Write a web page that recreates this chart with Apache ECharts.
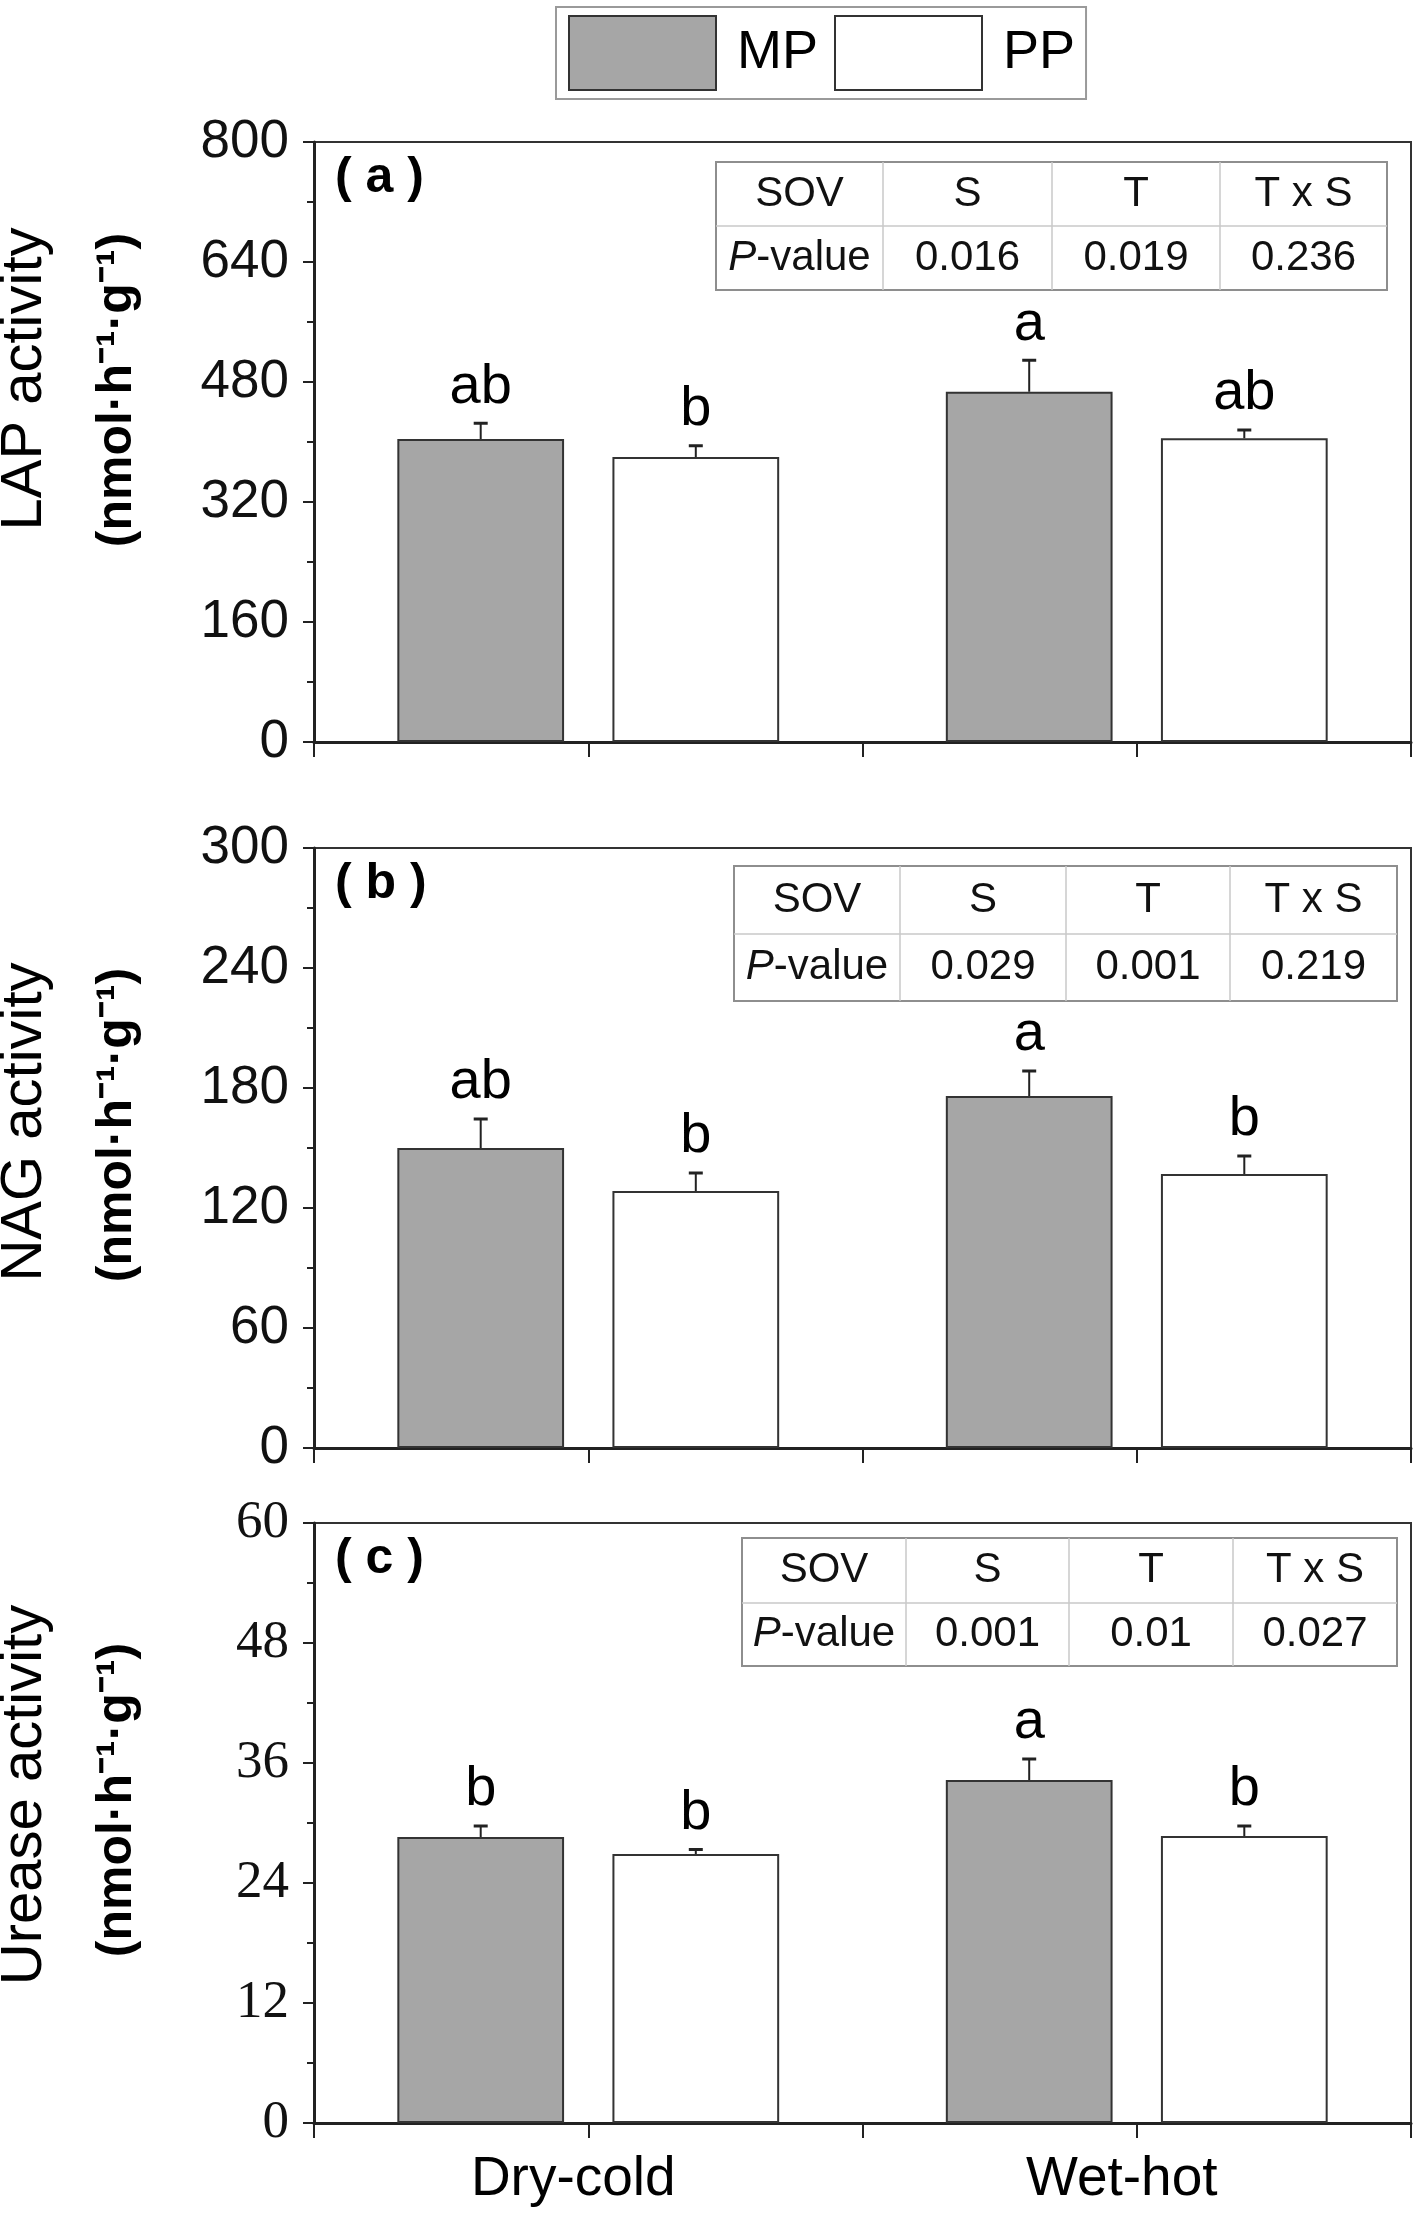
<!DOCTYPE html>
<html><head><meta charset="utf-8">
<script src="https://cdn.jsdelivr.net/npm/echarts@6/dist/echarts.min.js"></script>
<style>html,body{margin:0;padding:0;background:#fff}#c{width:1418px;height:2218px}</style>
</head><body><div id="c"></div>
<script>
// ---------- DATA ----------
const categories = ['Dry-cold', 'Wet-hot'];
const seriesNames = ['MP', 'PP'];
const tableHeader = ['SOV', 'S', 'T', 'T x S'];

// (a) LAP activity
const lapTicks = [0, 160, 320, 480, 640, 800];
const lapMP = [404, 467];
const lapMPse = [21, 42];
const lapPP = [380, 405];
const lapPPse = [15, 11];
const lapMPletters = ['ab', 'a'];
const lapPPletters = ['b', 'ab'];
const lapPvalues = ['0.016', '0.019', '0.236'];

// (b) NAG activity
const nagTicks = [0, 60, 120, 180, 240, 300];
const nagMP = [150, 176];
const nagMPse = [14.5, 12.5];
const nagPP = [128.5, 137];
const nagPPse = [9, 9];
const nagMPletters = ['ab', 'a'];
const nagPPletters = ['b', 'b'];
const nagPvalues = ['0.029', '0.001', '0.219'];

// (c) Urease activity
const ureTicks = [0, 12, 24, 36, 48, 60];
const ureMP = [28.6, 34.3];
const ureMPse = [1.1, 2.1];
const urePP = [26.9, 28.7];
const urePPse = [0.45, 1.0];
const ureMPletters = ['b', 'a'];
const urePPletters = ['b', 'b'];
const urePvalues = ['0.001', '0.01', '0.027'];

// ---------- LAYOUT / STYLE ----------
const SANS = '"Liberation Sans", Arial, Helvetica, sans-serif';
const SERIF = '"Liberation Serif", "Times New Roman", serif';
const AX = '#222';
const MP_FILL = '#a6a6a6';
const BAR_W = 0.304, BAR_GAP = 0.29;
const OFF = BAR_W * (1 + BAR_GAP) / 2;
const GRID_LEFT = 314, GRID_W = 1097, GRID_H = 600;

const panels = [
  { label: '( a )', top: 142, ticks: lapTicks, mp: lapMP, mpSe: lapMPse, pp: lapPP, ppSe: lapPPse,
    mpL: lapMPletters, ppL: lapPPletters, pv: lapPvalues, tickFont: SANS,
    title: 'LAP activity', titleY: [379, 390],
    tx: [716, 883, 1052, 1220, 1387], ty: [162, 226, 290] },
  { label: '( b )', top: 848, ticks: nagTicks, mp: nagMP, mpSe: nagMPse, pp: nagPP, ppSe: nagPPse,
    mpL: nagMPletters, ppL: nagPPletters, pv: nagPvalues, tickFont: SANS,
    title: 'NAG activity', titleY: [1122, 1125],
    tx: [734, 900, 1066, 1230, 1397], ty: [866, 934, 1001] },
  { label: '( c )', top: 1523, ticks: ureTicks, mp: ureMP, mpSe: ureMPse, pp: urePP, ppSe: urePPse,
    mpL: ureMPletters, ppL: urePPletters, pv: urePvalues, tickFont: SERIF,
    title: 'Urease activity', titleY: [1795, 1800],
    tx: [742, 906, 1069, 1233, 1397], ty: [1538, 1603, 1666] }
];

function errRender(sign, letters) {
  return function (params, api) {
    const i = api.value(0), v = api.value(1), se = api.value(2);
    const band = api.size([1, 0])[0];
    const dx = sign * band * OFF;
    const p0 = api.coord([i, v]);
    const p1 = api.coord([i, v + se]);
    const x = p0[0] + dx;
    const cap = 7;
    return {
      type: 'group',
      children: [
        { type: 'line', shape: { x1: x, y1: p0[1], x2: x, y2: p1[1] }, style: { stroke: AX, lineWidth: 2 } },
        { type: 'line', shape: { x1: x - cap, y1: p1[1], x2: x + cap, y2: p1[1] }, style: { stroke: AX, lineWidth: 3 } },
        { type: 'text', x: x, y: p1[1] - 8,
          style: { text: letters[params.dataIndex], font: '56px ' + SANS, fill: '#000', align: 'center', verticalAlign: 'bottom' } }
      ]
    };
  };
}

function tableGraphics(xs, ys, pv) {
  const els = [];
  els.push({ type: 'rect', shape: { x: xs[0], y: ys[0], width: xs[4] - xs[0], height: ys[2] - ys[0] },
    style: { fill: '#fff', stroke: '#8e8e8e', lineWidth: 2 }, z: 10 });
  for (let k = 1; k < 4; k++) {
    els.push({ type: 'line', shape: { x1: xs[k], y1: ys[0], x2: xs[k], y2: ys[2] },
      style: { stroke: '#c8c8c8', lineWidth: 1.5 }, z: 11 });
  }
  els.push({ type: 'line', shape: { x1: xs[0], y1: ys[1], x2: xs[4], y2: ys[1] },
    style: { stroke: '#c8c8c8', lineWidth: 1.5 }, z: 11 });
  const row2 = ['{i|P}-value'].concat(pv);
  for (let k = 0; k < 4; k++) {
    const cx = (xs[k] + xs[k + 1]) / 2;
    els.push({ type: 'text', x: cx, y: (ys[0] + ys[1]) / 2, z: 12,
      style: { text: tableHeader[k], font: '42px ' + SANS, fill: '#111', align: 'center', verticalAlign: 'middle' } });
    els.push({ type: 'text', x: cx, y: (ys[1] + ys[2]) / 2, z: 12,
      style: { text: row2[k], font: '42px ' + SANS, fill: '#111', align: 'center', verticalAlign: 'middle',
        rich: { i: { fontStyle: 'italic', fontSize: 42, fontFamily: SANS, fill: '#111' } } } });
  }
  return els;
}

const grid = [], xAxis = [], yAxis = [], series = [], graphic = [];

panels.forEach((p, k) => {
  grid.push({ left: GRID_LEFT, top: p.top, width: GRID_W, height: GRID_H, show: true,
    borderColor: '#333', borderWidth: 2, backgroundColor: 'transparent', outerBoundsMode: 'none', containLabel: false });
  const isLast = k === panels.length - 1;
  xAxis.push({
    type: 'category', gridIndex: k, data: categories, position: 'bottom', boundaryGap: true,
    axisLine: { show: true, lineStyle: { color: AX, width: 3 } },
    axisTick: { show: true, alignWithLabel: true, length: 15, lineStyle: { color: AX, width: 2 } },
    axisLabel: { show: isLast, fontFamily: SANS, fontSize: 55, color: '#000', margin: 29, padding: [0, 30, 0, 0] },
    splitLine: { show: false }
  });
  xAxis.push({
    type: 'category', gridIndex: k, data: categories, position: 'bottom', boundaryGap: true,
    axisLine: { show: false },
    axisTick: { show: true, alignWithLabel: false, length: 15, lineStyle: { color: AX, width: 2 } },
    axisLabel: { show: false }, splitLine: { show: false }
  });
  yAxis.push({
    type: 'value', gridIndex: k, min: p.ticks[0], max: p.ticks[p.ticks.length - 1],
    interval: p.ticks[1] - p.ticks[0],
    axisLine: { show: true, lineStyle: { color: AX, width: 3 } },
    axisTick: { show: true, inside: false, length: 11, lineStyle: { color: AX, width: 2 } },
    minorTick: { show: true, splitNumber: 2, length: 7, lineStyle: { color: AX, width: 2 } },
    axisLabel: { fontFamily: p.tickFont, fontSize: 53, color: '#111', margin: 25 },
    splitLine: { show: false }, minorSplitLine: { show: false }
  });
  const xi = 2 * k;
  series.push({
    name: seriesNames[0], type: 'bar', xAxisIndex: xi, yAxisIndex: k, data: p.mp,
    barWidth: (BAR_W * 100) + '%', barGap: (BAR_GAP * 100) + '%',
    itemStyle: { color: MP_FILL, borderColor: '#333', borderWidth: 2 }, silent: true, z: 2
  });
  series.push({
    name: seriesNames[1], type: 'bar', xAxisIndex: xi, yAxisIndex: k, data: p.pp,
    barWidth: (BAR_W * 100) + '%', barGap: (BAR_GAP * 100) + '%',
    itemStyle: { color: '#ffffff', borderColor: '#333', borderWidth: 2 }, silent: true, z: 2
  });
  series.push({
    type: 'custom', coordinateSystem: 'cartesian2d', xAxisIndex: xi, yAxisIndex: k, z: 5, silent: true,
    data: categories.map((c, i) => [i, p.mp[i], p.mpSe[i]]), renderItem: errRender(-1, p.mpL)
  });
  series.push({
    type: 'custom', coordinateSystem: 'cartesian2d', xAxisIndex: xi, yAxisIndex: k, z: 5, silent: true,
    data: categories.map((c, i) => [i, p.pp[i], p.ppSe[i]]), renderItem: errRender(1, p.ppL)
  });

  // y-axis title (two lines)
  graphic.push({ type: 'text', x: 25, y: p.titleY[0], rotation: Math.PI / 2,
    style: { text: p.title, font: '58px ' + SANS, fill: '#000', align: 'center', verticalAlign: 'middle' } });
  graphic.push({ type: 'text', x: 117, y: p.titleY[1], rotation: Math.PI / 2,
    style: { text: '(nmol\u00B7h\u207B\u00B9\u00B7g\u207B\u00B9)', font: 'bold 50px ' + SANS, fill: '#000', align: 'center', verticalAlign: 'middle' } });
  // panel label
  graphic.push({ type: 'text', x: 335, y: p.top + 36,
    style: { text: p.label, font: 'bold 50px ' + SANS, fill: '#000', align: 'left', verticalAlign: 'middle' } });
  tableGraphics(p.tx, p.ty, p.pv).forEach(e => graphic.push(e));
});

const chart = echarts.init(document.getElementById('c'), null, { renderer: 'canvas' });
chart.setOption({
  backgroundColor: '#fff',
  animation: false,
  legend: {
    data: seriesNames, left: 556, top: 7, orient: 'horizontal', icon: 'rect',
    itemWidth: 147, itemHeight: 74, itemGap: 16, padding: [8, 11, 8, 12],
    borderColor: '#9a9a9a', borderWidth: 2,
    textStyle: { fontFamily: SANS, fontSize: 54, color: '#000', padding: [0, 0, 0, 16] }
  },
  grid, xAxis, yAxis, series, graphic
});
</script></body></html>
